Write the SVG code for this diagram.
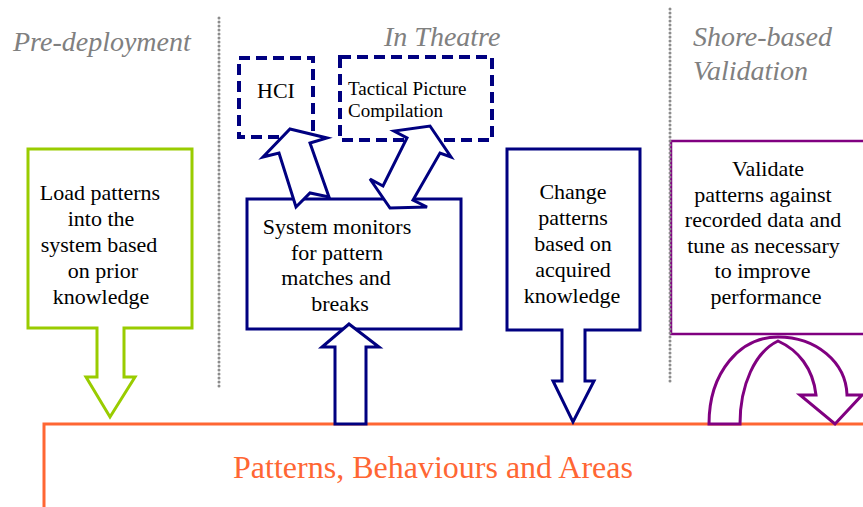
<svg xmlns="http://www.w3.org/2000/svg" width="863" height="507" viewBox="0 0 863 507">
<style>
text{font-family:"Liberation Serif","Times New Roman","DejaVu Serif","Noto Serif",serif}
.t{font-size:22px;fill:#000;text-anchor:middle}
.h{font-size:28px;font-style:italic;fill:#808080}
.s19{font-size:19px;fill:#000}
.pba{font-size:32px;fill:#FF6633;text-anchor:middle}
.navy{fill:#fff;stroke:#000080;stroke-width:3;stroke-linejoin:miter}
.dash{fill:#fff;stroke:#000080;stroke-width:4;stroke-dasharray:11 6}
.sep{stroke:#8c8c8c;stroke-width:3;stroke-linecap:round;stroke-dasharray:0 4;fill:none}
</style>
<rect width="863" height="507" fill="#fff"/>

<g id="headers">
<text class="h" x="13" y="51">Pre-deployment</text>
<text class="h" x="384" y="46">In Theatre</text>
<text class="h" x="693" y="46">Shore-based</text>
<text class="h" x="693" y="80">Validation</text>
</g>

<g id="pba">
<path d="M44,507 L44,424 L870,424" fill="none" stroke="#FF6633" stroke-width="3"/>
<text class="pba" x="433" y="478">Patterns, Behaviours and Areas</text>
</g>

<g id="load">
<path d="M28,149 L192,149 L192,328 L124,328 L124,377 L135,377 L110,417 L86,377 L97,377 L97,328 L28,328 Z" fill="#fff" stroke="#99CC00" stroke-width="3"/>
<text class="t" x="100" y="200">Load patterns</text>
<text class="t" x="101" y="226">into the</text>
<text class="t" x="99" y="252">system based</text>
<text class="t" x="103" y="278">on prior</text>
<text class="t" x="101" y="304">knowledge</text>
</g>

<g id="hci">
<rect class="dash" x="239" y="58" width="74" height="79"/>
<text class="t" x="276" y="98">HCI</text>
</g>

<g id="tpc">
<rect class="dash" x="340" y="57" width="152" height="83"/>
<text class="s19" x="348" y="95">Tactical Picture</text>
<text class="s19" x="348" y="117">Compilation</text>
</g>

<g id="monitor">
<rect class="navy" x="247" y="199" width="214" height="130" stroke-width="2.5"/>
<text class="t" x="337" y="234">System monitors</text>
<text class="t" x="337" y="259.5">for pattern</text>
<text class="t" x="336" y="285">matches and</text>
<text class="t" x="340" y="310.5">breaks</text>
</g>

<g id="change">
<path class="navy" d="M507,149 L640,149 L640,330 L585,330 L585,381 L594,381 L573,422 L553,381 L562,381 L562,330 L507,330 Z"/>
<text class="t" x="573" y="199">Change</text>
<text class="t" x="573" y="225">patterns</text>
<text class="t" x="573" y="251">based on</text>
<text class="t" x="573" y="277">acquired</text>
<text class="t" x="572" y="303">knowledge</text>
</g>

<g id="validate">
<rect x="671" y="141" width="200" height="193" fill="#fff" stroke="#800080" stroke-width="2.5"/>
<text class="t" x="768" y="176">Validate</text>
<text class="t" x="763" y="201.5">patterns against</text>
<text class="t" x="763" y="227">recorded data and</text>
<text class="t" x="763.5" y="252.5">tune as necessary</text>
<text class="t" x="762.5" y="278">to improve</text>
<text class="t" x="766" y="303.5">performance</text>
</g>

<g id="separators">
<line class="sep" x1="219" y1="18" x2="219" y2="390"/>
<line class="sep" x1="670" y1="9" x2="670" y2="385"/>
</g>

<g id="connectors">
<polygon class="navy" points="290,129 327,138 310,143 329,197 310,193 296,207 279,153 263,157"/>
<polygon class="navy" points="430,126 451,157 440,153 413,200 427,207 390,208 370,179 383,186 407,138 394,131"/>
<polygon class="navy" points="335,424 335,347 322,347 349,324 379,347 366,347 366,424"/>
<path d="M709,424 C709,372 740,337 778,337 C816,337 846,362 847,395 L862,395 L835,424 L800,395 L816,395 C813,368 798,350 778,341 C755,352 740,385 740,424 Z" fill="#fff" stroke="#800080" stroke-width="3" stroke-linejoin="miter"/>
</g>
</svg>
